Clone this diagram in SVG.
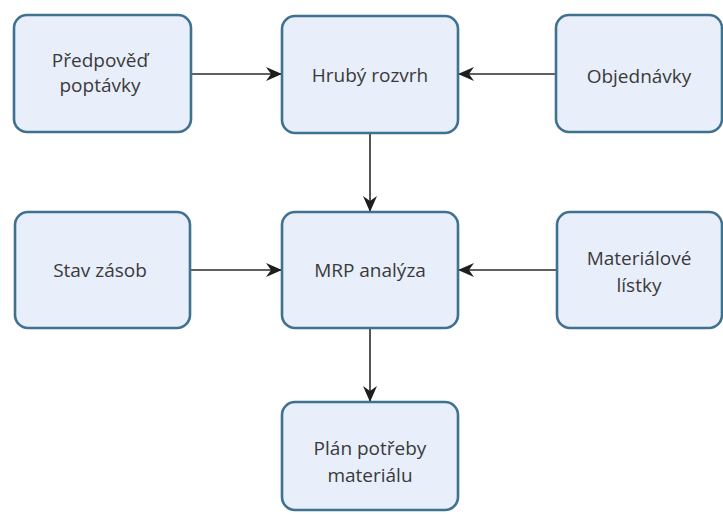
<svg xmlns="http://www.w3.org/2000/svg" width="723" height="516" viewBox="0 0 723 516">
  <style>
    .box { fill: #e9eefb; stroke: #3f7190; stroke-width: 2.6; }
    .lbl { font-family: "Open Sans", "Noto Sans", sans-serif; font-size: 19px; fill: #3a3a3a; text-anchor: middle; }
    .edge { stroke: #2b2b2b; stroke-width: 1.6; fill: none; marker-end: url(#arrow); }
  </style>
  <defs>
    <marker id="arrow" viewBox="0 0 16 16" refX="15" refY="8" markerWidth="16" markerHeight="16" markerUnits="userSpaceOnUse" orient="auto">
      <path d="M0,1 L16,8 L0,15 L5,8 Z" fill="#1e1e1e"/>
    </marker>
  </defs>
  <rect width="723" height="516" fill="#ffffff"/>

  <g id="connectors">
    <line class="edge" x1="191" y1="74" x2="281" y2="74"/>
    <line class="edge" x1="556" y1="74" x2="459" y2="74"/>
    <line class="edge" x1="370" y1="133" x2="370" y2="211"/>
    <line class="edge" x1="191" y1="270" x2="281" y2="270"/>
    <line class="edge" x1="556" y1="270" x2="459" y2="270"/>
    <line class="edge" x1="370" y1="328" x2="370" y2="401"/>
  </g>

  <g id="predpoved">
    <rect class="box" x="14" y="15" width="177" height="117" rx="13"/>
    <text class="lbl" x="100" y="67">Předpověď</text>
    <text class="lbl" x="100" y="92">poptávky</text>
  </g>
  <g id="hruby-rozvrh">
    <rect class="box" x="282" y="16" width="176" height="117" rx="13"/>
    <text class="lbl" x="370" y="82">Hrubý rozvrh</text>
  </g>
  <g id="objednavky">
    <rect class="box" x="556" y="15" width="166" height="117" rx="13"/>
    <text class="lbl" x="639" y="83">Objednávky</text>
  </g>
  <g id="stav-zasob">
    <rect class="box" x="15" y="212" width="175" height="116" rx="13"/>
    <text class="lbl" x="100" y="277">Stav zásob</text>
  </g>
  <g id="mrp-analyza">
    <rect class="box" x="282" y="212" width="176" height="116" rx="13"/>
    <text class="lbl" x="370" y="277">MRP analýza</text>
  </g>
  <g id="materialove-listky">
    <rect class="box" x="557" y="212" width="165" height="116" rx="13"/>
    <text class="lbl" x="639" y="265">Materiálové</text>
    <text class="lbl" x="639" y="292">lístky</text>
  </g>
  <g id="plan-potreby">
    <rect class="box" x="282" y="402" width="176" height="108" rx="13"/>
    <text class="lbl" x="370" y="455">Plán potřeby</text>
    <text class="lbl" x="370" y="482">materiálu</text>
  </g>
</svg>
